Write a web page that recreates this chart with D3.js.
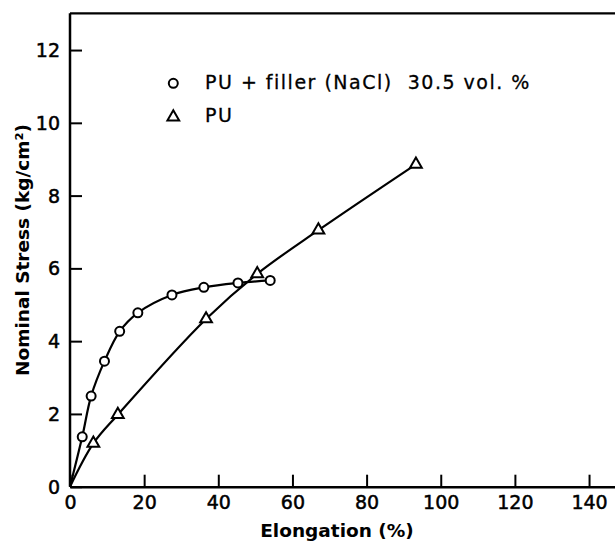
<!DOCTYPE html>
<html>
<head>
<meta charset="utf-8">
<script src="https://cdn.jsdelivr.net/npm/d3@7"></script>
<style>
  html, body { margin: 0; padding: 0; background: #fff; }
  svg { display: block; }
  text { font-family: "DejaVu Sans", sans-serif; fill: #000; }
</style>
</head>
<body>
<svg id="chart" width="615" height="544"></svg>
<script>
// ---- data ----
const xTicks = [0, 20, 40, 60, 80, 100, 120, 140];
const yTicks = [0, 2, 4, 6, 8, 10, 12];

// PU + filler (NaCl) 30.5 vol. %  (circles)
const fillerElong  = [3.3, 5.7, 9.3, 13.4, 18.3, 27.5, 36.1, 45.3, 54.0];
const fillerStress = [1.37, 2.49, 3.45, 4.27, 4.78, 5.27, 5.48, 5.60, 5.67];

// PU (triangles)
const puElong  = [6.3, 12.9, 36.7, 50.5, 67.0, 93.3];
const puStress = [1.19, 1.98, 4.61, 5.85, 7.05, 8.86];

// both curves start at the origin
const origin = [0, 0];

const legendLabels = ["PU + filler (NaCl)  30.5 vol. %", "PU"];
const xTitle = "Elongation (%)";
const yTitle = "Nominal Stress (kg/cm\u00B2)";

// ---- layout ----
const svg = d3.select("#chart");
const mLeft = 70, mRight = 615, mTop = 13.3, mBottom = 486.7;

const x = d3.scaleLinear().domain([0, 147]).range([mLeft, mRight]);
const y = d3.scaleLinear().domain([0, 13.01]).range([mBottom, mTop]);

// frame: top line
svg.append("line")
  .attr("x1", mLeft).attr("x2", mRight)
  .attr("y1", mTop).attr("y2", mTop)
  .attr("stroke", "#000").attr("stroke-width", 2.2);

// x axis (ticks pointing inward)
const xAxis = d3.axisBottom(x).tickValues(xTicks).tickSizeInner(-12).tickSizeOuter(0).tickPadding(0)
  .tickFormat(d3.format("d"));
const gx = svg.append("g").attr("transform", `translate(0,${mBottom})`).call(xAxis);
gx.select(".domain").attr("stroke-width", 2.5);
gx.selectAll(".tick line").attr("stroke-width", 2);
gx.selectAll(".tick text")
  .attr("font-size", 19).attr("font-family", "DejaVu Sans, sans-serif")
  .attr("stroke", "#000").attr("stroke-width", 0.5)
  .attr("dy", "0").attr("y", 22);

// y axis
const yAxis = d3.axisLeft(y).tickValues(yTicks).tickSizeInner(-12).tickSizeOuter(0).tickPadding(0)
  .tickFormat(d3.format("d"));
const gy = svg.append("g").attr("transform", `translate(${mLeft},0)`).call(yAxis);
gy.select(".domain").attr("stroke-width", 2.5).attr("d", `M0,${mTop}V${mBottom}`);
gy.selectAll(".tick line").attr("stroke-width", 2);
gy.selectAll(".tick text")
  .attr("font-size", 19).attr("font-family", "DejaVu Sans, sans-serif")
  .attr("stroke", "#000").attr("stroke-width", 0.5)
  .attr("x", -10).attr("dy", "0.34em");

// axis titles
svg.append("text")
  .attr("x", 337).attr("y", 537)
  .attr("text-anchor", "middle")
  .attr("font-size", 18.5).attr("font-weight", "bold")
  .text(xTitle);

svg.append("text")
  .attr("transform", `translate(29,${(mTop + mBottom) / 2}) rotate(-90)`)
  .attr("text-anchor", "middle")
  .attr("font-size", 18.5).attr("font-weight", "bold")
  .text(yTitle);

// curves
const line = d3.line()
  .x(d => x(d[0])).y(d => y(d[1]))
  .curve(d3.curveCatmullRom.alpha(0.5));

const fillerPts = fillerElong.map((e, i) => [e, fillerStress[i]]);
const puPts = puElong.map((e, i) => [e, puStress[i]]);

svg.append("path")
  .datum([origin, ...fillerPts])
  .attr("d", line).attr("fill", "none").attr("stroke", "#000").attr("stroke-width", 2.2);

svg.append("path")
  .datum([origin, ...puPts])
  .attr("d", line).attr("fill", "none").attr("stroke", "#000").attr("stroke-width", 2.2);

// markers
const triSym = d3.symbol().type(d3.symbolTriangle).size(60);

svg.append("g").selectAll("circle")
  .data(fillerPts).join("circle")
  .attr("cx", d => x(d[0])).attr("cy", d => y(d[1]))
  .attr("r", 4.5).attr("fill", "#fff").attr("stroke", "#000").attr("stroke-width", 2);

svg.append("g").selectAll("path")
  .data(puPts).join("path")
  .attr("d", triSym)
  .attr("transform", d => `translate(${x(d[0])},${y(d[1])})`)
  .attr("fill", "#fff").attr("stroke", "#000").attr("stroke-width", 2);

// legend
const lg = svg.append("g");
lg.append("circle").attr("cx", 173.3).attr("cy", 83.3).attr("r", 4.5)
  .attr("fill", "#fff").attr("stroke", "#000").attr("stroke-width", 2);
lg.append("path").attr("d", triSym).attr("transform", "translate(173.3,117)")
  .attr("fill", "#fff").attr("stroke", "#000").attr("stroke-width", 2);
lg.append("text").attr("x", 205).attr("y", 88.5).attr("font-size", 19)
  .attr("letter-spacing", 1.5).attr("stroke", "#000").attr("stroke-width", 0.3)
  .style("white-space", "pre")
  .text(legendLabels[0]);
lg.append("text").attr("x", 205).attr("y", 122).attr("font-size", 19)
  .attr("letter-spacing", 1.5).attr("stroke", "#000").attr("stroke-width", 0.3)
  .text(legendLabels[1]);
</script>
</body>
</html>
